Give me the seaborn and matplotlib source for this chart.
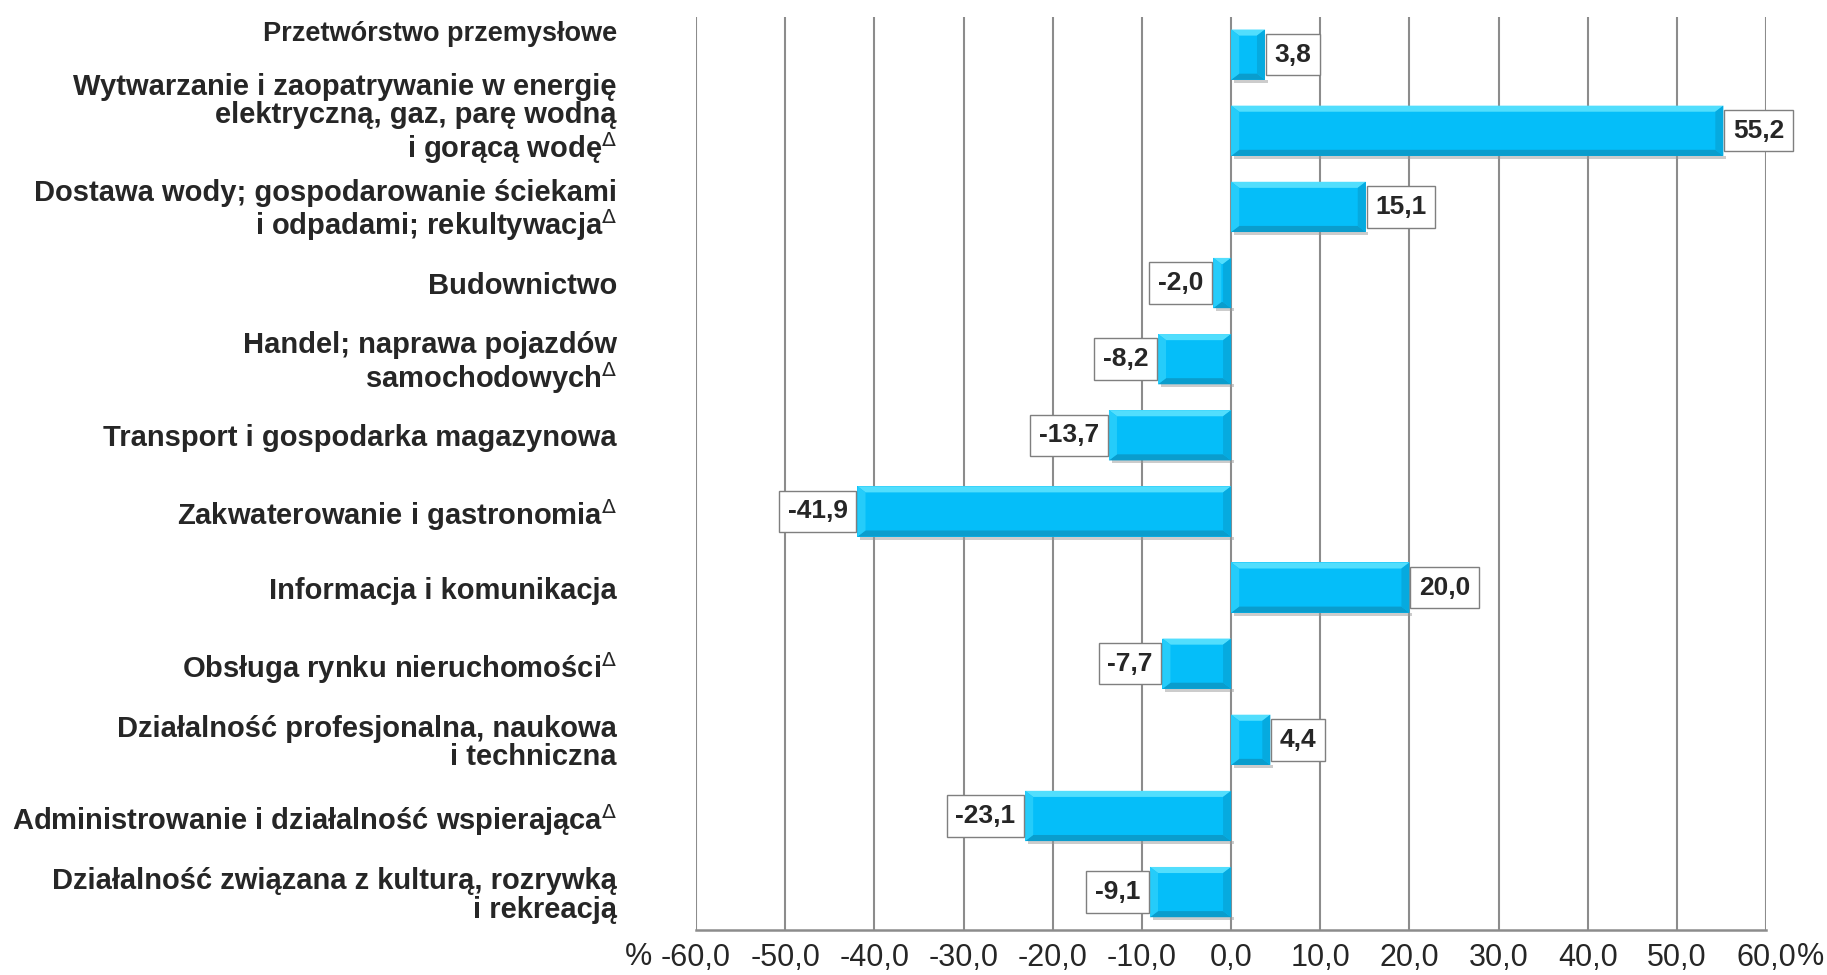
import matplotlib
matplotlib.use("Agg")
import matplotlib.pyplot as plt
from matplotlib.patches import Polygon
from matplotlib.transforms import ScaledTranslation
import seaborn as sns

# data
categories = [
    "Przetwórstwo przemysłowe",
    "Wytwarzanie i zaopatrywanie w energię\nelektryczną, gaz, parę wodną\ni gorącą wodę",
    "Dostawa wody; gospodarowanie ściekami\ni odpadami; rekultywacja",
    "Budownictwo",
    "Handel; naprawa pojazdów\nsamochodowych",
    "Transport i gospodarka magazynowa",
    "Zakwaterowanie i gastronomia",
    "Informacja i komunikacja",
    "Obsługa rynku nieruchomości",
    "Działalność profesjonalna, naukowa\ni techniczna",
    "Administrowanie i działalność wspierająca",
    "Działalność związana z kulturą, rozrywką\ni rekreacją",
]
delta_mark = [False, True, True, False, True, False, True, False, True, False, True, False]
values = [3.8, 55.2, 15.1, -2.0, -8.2, -13.7, -41.9, 20.0, -7.7, 4.4, -23.1, -9.1]
xticks = [-60, -50, -40, -30, -20, -10, 0, 10, 20, 30, 40, 50, 60]

labels = [c + (r"$^{\Delta}$" if d else "") for c, d in zip(categories, delta_mark)]

sns.set_style("white")
plt.rcParams["font.family"] = ["Liberation Sans", "DejaVu Sans"]
plt.rcParams["mathtext.fontset"] = "dejavusans"
narrow = ["Liberation Sans Narrow", "Liberation Sans", "DejaVu Sans"]

fig = plt.figure(figsize=(18.27, 9.75), dpi=100)
ax = fig.add_axes([0.381, 0.046, 0.5857, 0.937])

sns.barplot(x=values, y=labels, orient="h", color="#05BEF9", saturation=1,
            width=0.66, linewidth=0, ax=ax, zorder=3)

# simple bevel look on each bar
bx, by = 0.9, 0.08
for p in list(ax.patches):
    x0, y0 = p.get_x(), p.get_y()
    w, h = p.get_width(), p.get_height()
    xa, xb = min(x0, x0 + w), max(x0, x0 + w)
    ya, yb = min(y0, y0 + h), max(y0, y0 + h)   # y axis inverted: ya is the top
    ex = min(bx, (xb - xa) / 2)
    faces = [
        ([(xa, ya), (xb, ya), (xb - ex, ya + by), (xa + ex, ya + by)], "#52DEFD"),
        ([(xa, yb), (xb, yb), (xb - ex, yb - by), (xa + ex, yb - by)], "#0A9DCD"),
        ([(xa, ya), (xa + ex, ya + by), (xa + ex, yb - by), (xa, yb)], "#25CCFA"),
        ([(xb, ya), (xb - ex, ya + by), (xb - ex, yb - by), (xb, yb)], "#06AADF"),
    ]
    for pts, col in faces:
        ax.add_patch(Polygon(pts, closed=True, fc=col, ec="none", zorder=4))
    ax.add_patch(Polygon([(xa + 0.3, yb), (xb + 0.3, yb), (xb + 0.3, yb + 0.04), (xa + 0.3, yb + 0.04)],
                         closed=True, fc="#9a9a9a", ec="none", alpha=0.5, zorder=2.5))

ax.set_xlim(-60, 60)
ax.set_ylim(11.5, -0.5)
ax.set_xticks(xticks)
ax.set_xticklabels([f"{t:.1f}".replace(".", ",") for t in xticks], fontsize=22, family=narrow)
ax.grid(axis="x", color="#8c8c8c", linewidth=1.5, zorder=0)
ax.grid(axis="y", visible=False)
for s in ["top", "right", "left"]:
    ax.spines[s].set_visible(False)
ax.spines["bottom"].set_color("#8c8c8c")
ax.spines["bottom"].set_linewidth(1.8)
ax.tick_params(axis="x", length=6, width=1.5, color="#8c8c8c", pad=3)
ax.tick_params(axis="y", length=0, pad=57)
ax.set_xlabel("")
ax.set_ylabel("")

# first two labels sit a little higher than their bars in the original
lift = [17, 11.5] + [0] * (len(labels) - 2)
for t, up in zip(ax.get_yticklabels(), lift):
    t.set_fontsize(21)
    t.set_fontweight("bold")
    t.set_linespacing(1.02)
    if up:
        t.set_transform(t.get_transform() + ScaledTranslation(0, up / 72, fig.dpi_scale_trans))
ax.get_yticklabels()[0].set_fontsize(19.5)

# value boxes
for i, v in enumerate(values):
    txt = f"{v:.1f}".replace(".", ",")
    off = 7 if v >= 0 else -7
    ax.annotate(txt, xy=(v, i), xytext=(off, 0), textcoords="offset points",
                ha="left" if v >= 0 else "right", va="center",
                fontsize=19, fontweight="bold", zorder=6,
                bbox=dict(boxstyle="square,pad=0.33", fc="white", ec="#7f7f7f", lw=1))

fig.text(0.3497, 0.0185, "%", fontsize=22, family=narrow, ha="center", va="center")
fig.text(0.9907, 0.0185, "%", fontsize=22, family=narrow, ha="center", va="center")

fig.savefig("out.png", dpi=100)
